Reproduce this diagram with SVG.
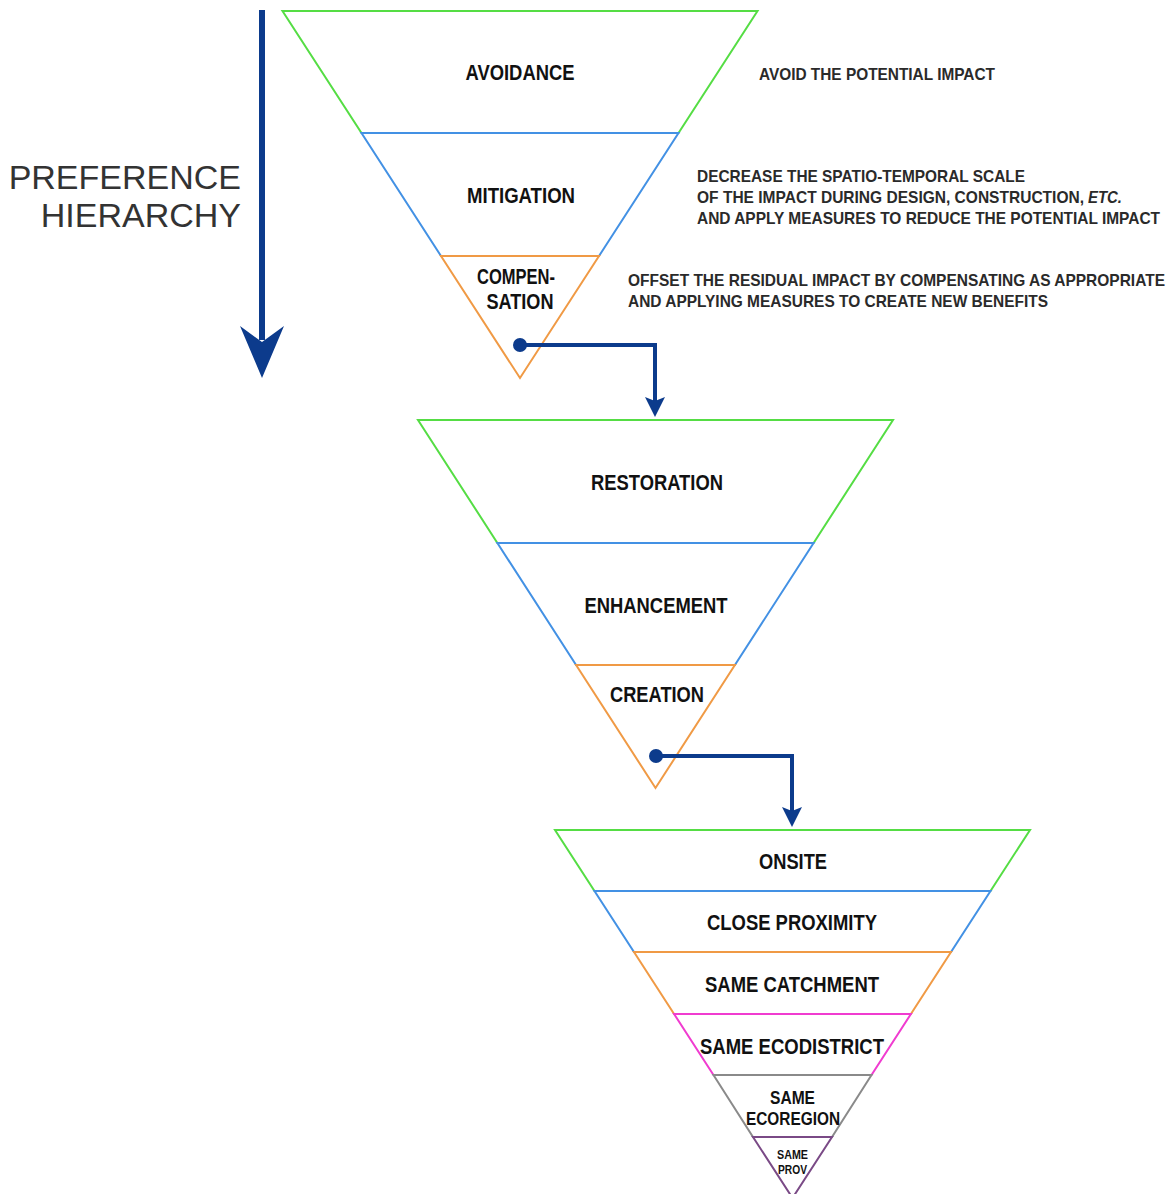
<svg xmlns="http://www.w3.org/2000/svg" width="1174" height="1194" viewBox="0 0 1174 1194">
<style>
.lbl{font-family:"Liberation Sans",Arial,sans-serif;font-weight:bold;font-size:22px;fill:#111;text-anchor:middle}
.desc{font-family:"Liberation Sans",Arial,sans-serif;font-weight:bold;font-size:16.5px;fill:#2a2a2a}
.big{font-family:"Liberation Sans",Arial,sans-serif;font-size:34px;fill:#333;text-anchor:end}
.band{fill:#fff;stroke-width:2;stroke-linejoin:miter}
.g{stroke:#55dd44}.b{stroke:#4391e4}.o{stroke:#f09a45}.m{stroke:#f03cd0}.gr{stroke:#8a8a8a}.p{stroke:#7a4a86}
.conn{fill:none;stroke:#0c3b8c;stroke-width:4}
</style>
<defs>
<marker id="ah" markerUnits="userSpaceOnUse" markerWidth="24" markerHeight="24" viewBox="-2 -12 24 24" refX="8" refY="0" orient="auto">
<path d="M0,-10 L20,0 L0,10 L4,0 z" fill="#0c3b8c"/>
</marker>
</defs>
<rect width="1174" height="1194" fill="#fff"/>

<g id="preference-hierarchy">
<line x1="262" y1="10" x2="262" y2="340" stroke="#0c3b8c" stroke-width="6"/>
<polygon points="240,326 262,342 284,326 262,378" fill="#0c3b8c"/>
<text class="big" x="241" y="189">PREFERENCE</text>
<text class="big" x="241" y="227">HIERARCHY</text>
</g>

<g id="triangle-1">
<g id="avoidance"><polygon class="band g" points="282.5,11 757.5,11 678.5,133 361.5,133"/><text class="lbl" x="520" y="80" textLength="109" lengthAdjust="spacingAndGlyphs">AVOIDANCE</text></g>
<g id="mitigation"><polygon class="band b" points="361.5,133 678.5,133 599,256 441,256"/><text class="lbl" x="521" y="203" textLength="108" lengthAdjust="spacingAndGlyphs">MITIGATION</text></g>
<g id="compensation"><polygon class="band o" points="441,256 599,256 520,378"/><text class="lbl" x="516" y="284" textLength="78" lengthAdjust="spacingAndGlyphs">COMPEN-</text><text class="lbl" x="520" y="309" textLength="67" lengthAdjust="spacingAndGlyphs">SATION</text></g>
</g>

<g id="descriptions" transform="scale(0.93,1)">
<text class="desc" x="816.1" y="80" textLength="253.8" lengthAdjust="spacingAndGlyphs">AVOID THE POTENTIAL IMPACT</text>
<text class="desc" x="749.5" y="182" textLength="352.7" lengthAdjust="spacingAndGlyphs">DECREASE THE SPATIO-TEMPORAL SCALE</text>
<text class="desc" x="749.5" y="203" textLength="416.1" lengthAdjust="spacingAndGlyphs">OF THE IMPACT DURING DESIGN, CONSTRUCTION,</text>
<text class="desc" x="1169.9" y="203" textLength="36.6" lengthAdjust="spacingAndGlyphs" font-style="italic">ETC.</text>
<text class="desc" x="749.5" y="224" textLength="497.8" lengthAdjust="spacingAndGlyphs">AND APPLY MEASURES TO REDUCE THE POTENTIAL IMPACT</text>
<text class="desc" x="675.3" y="286" textLength="577.4" lengthAdjust="spacingAndGlyphs">OFFSET THE RESIDUAL IMPACT BY COMPENSATING AS APPROPRIATE</text>
<text class="desc" x="675.3" y="307" textLength="451.6" lengthAdjust="spacingAndGlyphs">AND APPLYING MEASURES TO CREATE NEW BENEFITS</text>
</g>

<g id="triangle-2">
<g id="restoration"><polygon class="band g" points="418,420 893,420 813.6,543 497.4,543"/><text class="lbl" x="657" y="490" textLength="132" lengthAdjust="spacingAndGlyphs">RESTORATION</text></g>
<g id="enhancement"><polygon class="band b" points="497.4,543 813.6,543 734.9,665 576.1,665"/><text class="lbl" x="656" y="613" textLength="143" lengthAdjust="spacingAndGlyphs">ENHANCEMENT</text></g>
<g id="creation"><polygon class="band o" points="576.1,665 734.9,665 655.5,788"/><text class="lbl" x="657" y="702" textLength="94" lengthAdjust="spacingAndGlyphs">CREATION</text></g>
</g>

<g id="triangle-3">
<g id="onsite"><polygon class="band g" points="555,830 1030,830 990.5,891 594.5,891"/><text class="lbl" x="793" y="869" textLength="68" lengthAdjust="spacingAndGlyphs">ONSITE</text></g>
<g id="close-proximity"><polygon class="band b" points="594.5,891 990.5,891 951,952 634,952"/><text class="lbl" x="792" y="930" textLength="170" lengthAdjust="spacingAndGlyphs">CLOSE PROXIMITY</text></g>
<g id="same-catchment"><polygon class="band o" points="634,952 951,952 910.9,1014 674.1,1014"/><text class="lbl" x="792" y="992" textLength="174" lengthAdjust="spacingAndGlyphs">SAME CATCHMENT</text></g>
<g id="same-ecodistrict"><polygon class="band m" points="674.1,1014 910.9,1014 871.5,1075 713.5,1075"/><text class="lbl" x="792" y="1054" textLength="184" lengthAdjust="spacingAndGlyphs">SAME ECODISTRICT</text></g>
<g id="same-ecoregion"><polygon class="band gr" points="713.5,1075 871.5,1075 832,1137 753,1137"/><text class="lbl" style="font-size:18px" x="792.5" y="1104" textLength="45" lengthAdjust="spacingAndGlyphs">SAME</text><text class="lbl" style="font-size:18px" x="793" y="1125" textLength="94" lengthAdjust="spacingAndGlyphs">ECOREGION</text></g>
<g id="same-prov"><polygon class="band p" points="753,1137 832,1137 792.5,1198"/><text class="lbl" style="font-size:12px" x="792.5" y="1159" textLength="31" lengthAdjust="spacingAndGlyphs">SAME</text><text class="lbl" style="font-size:12px" x="792.5" y="1174" textLength="29" lengthAdjust="spacingAndGlyphs">PROV</text></g>
</g>

<g id="connectors">
<circle cx="520" cy="345" r="7" fill="#0c3b8c"/>
<path class="conn" d="M520,345 H655 V405" marker-end="url(#ah)"/>
<circle cx="656" cy="756" r="7" fill="#0c3b8c"/>
<path class="conn" d="M656,756 H792 V815" marker-end="url(#ah)"/>
</g>
</svg>
